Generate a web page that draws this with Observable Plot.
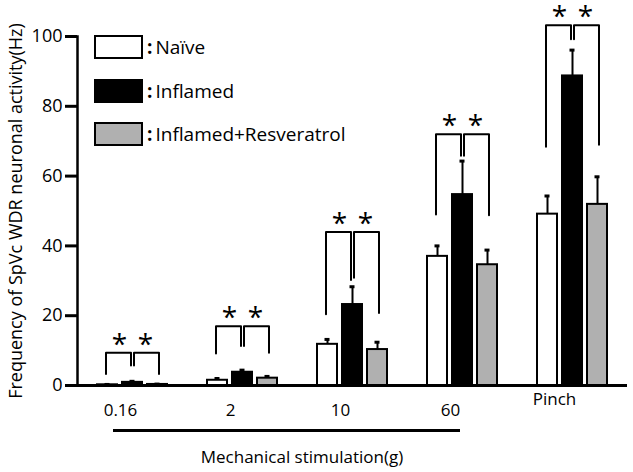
<!DOCTYPE html>
<html><head><meta charset="utf-8">
<script src="https://cdn.jsdelivr.net/npm/d3@7"></script>
<script src="https://cdn.jsdelivr.net/npm/@observablehq/plot@0.6"></script>
<style>
body{margin:0;background:#fff;font-family:"Open Sans",sans-serif;color:#000;}
#wrap{position:relative;width:633px;height:472px;overflow:hidden;}
#wrap svg{position:absolute;left:0;top:0;}
.leg{position:absolute;left:94px;height:24px;display:flex;align-items:center;font-size:19px;white-space:nowrap;}
.box{box-sizing:border-box;width:49px;height:24px;border:2px solid #000;margin-right:4px;}
.colon{font-weight:700;margin-right:3px;}
.under{position:absolute;left:113px;width:347px;top:429px;height:3px;background:#000;}
.xtitle{position:absolute;left:0;width:604px;top:445px;text-align:center;font-size:17px;}
</style></head><body>
<div id="wrap"></div>
<script>
// categories
const groups = ["0.16", "2", "10", "60", "Pinch"];
const series = ["Naïve", "Inflamed", "Inflamed+Resveratrol"];
const seriesColors = ["#ffffff", "#000000", "#b0b0b0"];
// means (Hz)
const naive = [0.2, 1.5, 11.8, 37.0, 49.1];
const inflamed = [0.9, 3.8, 23.2, 54.7, 88.7];
const resveratrol = [0.3, 2.1, 10.3, 34.6, 51.9];
// SEM (Hz)
const naiveSem = [0.1, 0.5, 1.4, 3.0, 5.2];
const inflamedSem = [0.3, 0.6, 5.1, 9.6, 7.4];
const resveratrolSem = [0.1, 0.5, 2.1, 4.2, 7.9];
// significance brackets (y levels in Hz)
const bracketTop = [9.4, 17.0, 44.0, 72.0, 103.2];
const bracketLeftLow = [3.3, 9.2, 20.4, 49.0, 68.4];
const bracketLeftInner = [5.7, 11.3, 30.2, 65.8, 99.2];
const bracketRightInner = [5.7, 11.3, 30.9, 65.8, 99.2];
const bracketRightLow = [3.3, 9.4, 20.8, 48.8, 69.0];
const yTicks = [0, 20, 40, 60, 80, 100];

const means = [naive, inflamed, resveratrol];
const sems = [naiveSem, inflamedSem, resveratrolSem];
const rows = [];
groups.forEach((g, i) => series.forEach((s, j) =>
  rows.push({group: g, series: s, value: means[j][i], sem: sems[j][i]})));

const leftBr = [], rightBr = [];
groups.forEach((g, i) => {
  leftBr.push({group: g, x: series[0], y: bracketLeftLow[i]},
              {group: g, x: series[0], y: bracketTop[i]},
              {group: g, x: series[1], y: bracketTop[i]},
              {group: g, x: series[1], y: bracketLeftInner[i]});
  rightBr.push({group: g, x: series[1], y: bracketRightInner[i]},
               {group: g, x: series[1], y: bracketTop[i]},
               {group: g, x: series[2], y: bracketTop[i]},
               {group: g, x: series[2], y: bracketRightLow[i]});
});
const stars = groups.map((g, i) => ({group: g, top: bracketTop[i]}));
const numericGroups = groups.slice(0, 4);
const lastGroup = groups.slice(4);

const plot = Plot.plot({
  width: 633, height: 472,
  marginLeft: 75, marginRight: 5, marginTop: 36, marginBottom: 87,
  style: {fontFamily: "Open Sans", fontSize: "18px", color: "#000", background: "transparent"},
  fx: {domain: groups, padding: 0, axis: null},
  x: {domain: series, paddingInner: 0.2, paddingOuter: 0.75, axis: null},
  y: {domain: [0, 100], axis: null},
  color: {domain: series, range: seriesColors},
  marks: [
    Plot.frame({anchor: "left", facetAnchor: "left", strokeWidth: 2.5}),
    Plot.axisY({ticks: yTicks, tickSize: 12, tickPadding: 3, fontSize: 18, strokeWidth: 3,
      label: "Frequency of SpVc WDR neuronal activity(Hz)", labelAnchor: "center", labelArrow: "none",
      labelOffset: 68}),
    Plot.ruleX(rows, {fx: "group", x: "series", y1: "value", y2: d => d.value + d.sem, strokeWidth: 2}),
    Plot.tickY(rows, {fx: "group", x: "series", y: d => d.value + d.sem, strokeWidth: 3, inset: 7.5}),
    Plot.barY(rows, {fx: "group", x: "series", y: "value", fill: "series", stroke: "#000", strokeWidth: 2}),
    Plot.ruleY([0], {strokeWidth: 3}),
    Plot.line(leftBr, {fx: "group", x: "x", y: "y", z: "group", stroke: "#000", strokeWidth: 2, dx: -1.5}),
    Plot.line(rightBr, {fx: "group", x: "x", y: "y", z: "group", stroke: "#000", strokeWidth: 2, dx: 1.5}),
    Plot.text(stars, {fx: "group", x: () => series[0], y: "top", text: () => "*", fontSize: 28, dx: 12, dy: 1, lineAnchor: "bottom"}),
    Plot.text(stars, {fx: "group", x: () => series[2], y: "top", text: () => "*", fontSize: 28, dx: -12, dy: 1, lineAnchor: "bottom"}),
    Plot.text(numericGroups, {fx: d => d, frameAnchor: "bottom", text: d => d, fontSize: 17, dx: -12, dy: 30}),
    Plot.text(lastGroup, {fx: d => d, frameAnchor: "bottom", text: d => d, fontSize: 17, dx: -18, dy: 19})
  ]
});
const wrap = document.getElementById("wrap");
wrap.appendChild(plot);

// legend
const legTops = [35, 79, 122];
series.forEach((s, j) => {
  const d = document.createElement("div");
  d.className = "leg";
  d.style.top = legTops[j] + "px";
  const b = document.createElement("div");
  b.className = "box";
  b.style.background = seriesColors[j];
  const c = document.createElement("span");
  c.className = "colon";
  c.textContent = ":";
  const t = document.createElement("span");
  t.textContent = s;
  d.appendChild(b); d.appendChild(c); d.appendChild(t);
  wrap.appendChild(d);
});
const u = document.createElement("div"); u.className = "under"; wrap.appendChild(u);
const xt = document.createElement("div"); xt.className = "xtitle"; xt.textContent = "Mechanical stimulation(g)"; wrap.appendChild(xt);
</script>
</body></html>
